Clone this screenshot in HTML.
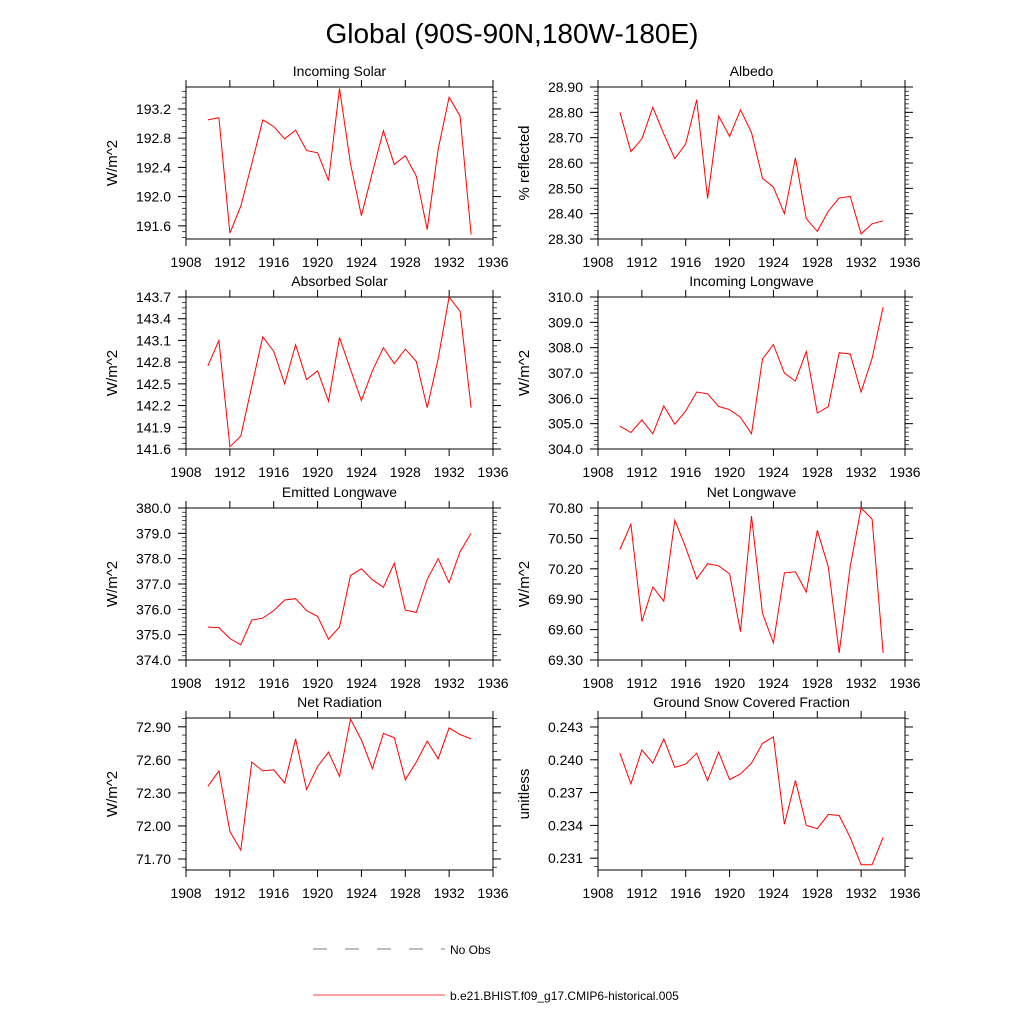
<!DOCTYPE html>
<html><head><meta charset="utf-8"><style>
body{margin:0;background:#fff;width:1024px;height:1024px;overflow:hidden}
svg text{font-family:"Liberation Sans",Arial,sans-serif;fill:#000}
</style></head><body>
<svg id="chart" width="1024" height="1024" xmlns="http://www.w3.org/2000/svg">
<text x="512" y="43" font-size="28" text-anchor="middle">Global (90S-90N,180W-180E)</text>
<g>
<line x1="313" y1="949" x2="445" y2="949" stroke="#555" stroke-width="0.7" stroke-dasharray="14,18"/>
<text x="450" y="954" font-size="12">No Obs</text>
<line x1="313" y1="995" x2="445" y2="995" stroke="#f00" stroke-width="0.7"/>
<text x="450" y="1000" font-size="12">b.e21.BHIST.f09_g17.CMIP6-historical.005</text>
</g>
</svg>
<script>
const years=[1910,1911,1912,1913,1914,1915,1916,1917,1918,1919,1920,1921,1922,1923,1924,1925,1926,1927,1928,1929,1930,1931,1932,1933,1934];
const xTicks=[1908,1912,1916,1920,1924,1928,1932,1936];
const incomingSolar=[193.05,193.08,191.5,191.87,192.45,193.05,192.96,192.79,192.91,192.63,192.6,192.22,193.48,192.45,191.74,192.33,192.9,192.44,192.56,192.28,191.55,192.65,193.36,193.1,191.48];
const albedo=[28.80,28.645,28.695,28.82,28.715,28.617,28.675,28.85,28.46,28.785,28.705,28.81,28.72,28.54,28.505,28.40,28.62,28.38,28.33,28.41,28.462,28.468,28.32,28.36,28.372];
const absorbedSolar=[142.75,143.1,141.63,141.78,142.47,143.15,142.95,142.5,143.04,142.56,142.68,142.26,143.14,142.7,142.27,142.68,143.0,142.78,142.98,142.81,142.17,142.85,143.7,143.5,142.17];
const incomingLW=[304.9,304.65,305.15,304.6,305.7,304.98,305.5,306.25,306.18,305.68,305.55,305.25,304.6,307.55,308.12,307.0,306.68,307.85,305.42,305.67,307.8,307.75,306.25,307.58,309.6];
const emittedLW=[375.3,375.28,374.85,374.6,375.58,375.65,375.95,376.37,376.42,375.95,375.72,374.82,375.3,377.33,377.6,377.17,376.87,377.82,375.97,375.88,377.18,378.0,377.05,378.28,379.0];
const netLW=[70.39,70.64,69.68,70.02,69.88,70.68,70.41,70.1,70.25,70.23,70.15,69.58,70.72,69.76,69.47,70.16,70.17,69.97,70.58,70.22,69.37,70.22,70.8,70.69,69.37];
const netRad=[72.36,72.50,71.95,71.78,72.58,72.50,72.51,72.39,72.79,72.33,72.54,72.67,72.45,72.97,72.78,72.52,72.84,72.80,72.42,72.58,72.77,72.61,72.89,72.83,72.79];
const snow=[0.2406,0.2378,0.2409,0.2397,0.2419,0.2393,0.2396,0.2406,0.2381,0.2407,0.2382,0.2387,0.2397,0.2415,0.2421,0.2341,0.2381,0.2340,0.2337,0.2350,0.2349,0.2329,0.2304,0.2304,0.2329];
const ticksIS=[191.6,192.0,192.4,192.8,193.2];
const ticksAl=[28.30,28.40,28.50,28.60,28.70,28.80,28.90];
const ticksAS=[141.6,141.9,142.2,142.5,142.8,143.1,143.4,143.7];
const ticksIL=[304,305,306,307,308,309,310];
const ticksEL=[374,375,376,377,378,379,380];
const ticksNL=[69.30,69.60,69.90,70.20,70.50,70.80];
const ticksNR=[71.70,72.00,72.30,72.60,72.90];
const ticksSn=[0.231,0.234,0.237,0.240,0.243];
const NS='http://www.w3.org/2000/svg';
const svg=document.getElementById('chart');
function mk(t,a,p){const e=document.createElementNS(NS,t);for(const k in a)e.setAttribute(k,a[k]);(p||svg).appendChild(e);return e;}
const panels=[
 {name:'incoming-solar',title:'Incoming Solar',yl:'W/m^2',x:186,y:87,data:incomingSolar,ticks:ticksIS,ymin:191.42,ymax:193.5,dec:1,minor:4},
 {name:'albedo',title:'Albedo',yl:'% reflected',x:598,y:87,data:albedo,ticks:ticksAl,ymin:28.3,ymax:28.9,dec:2,minor:5},
 {name:'absorbed-solar',title:'Absorbed Solar',yl:'W/m^2',x:186,y:297,data:absorbedSolar,ticks:ticksAS,ymin:141.6,ymax:143.7,dec:1,minor:3},
 {name:'incoming-longwave',title:'Incoming Longwave',yl:'W/m^2',x:598,y:297,data:incomingLW,ticks:ticksIL,ymin:304,ymax:310,dec:1,minor:5},
 {name:'emitted-longwave',title:'Emitted Longwave',yl:'W/m^2',x:186,y:508,data:emittedLW,ticks:ticksEL,ymin:374,ymax:380,dec:1,minor:5},
 {name:'net-longwave',title:'Net Longwave',yl:'W/m^2',x:598,y:508,data:netLW,ticks:ticksNL,ymin:69.3,ymax:70.8,dec:2,minor:3},
 {name:'net-radiation',title:'Net Radiation',yl:'W/m^2',x:186,y:718,data:netRad,ticks:ticksNR,ymin:71.60,ymax:72.98,dec:2,minor:3},
 {name:'ground-snow',title:'Ground Snow Covered Fraction',yl:'unitless',x:598,y:718,data:snow,ticks:ticksSn,ymin:0.22992,ymax:0.24382,dec:3,minor:3}
];
const W=307,H=152;
panels.forEach(p=>{
 const g=mk('g',{});
 
 
 const sx=v=>p.x+(v-1908)/28*W;
 const sy=v=>p.y+H-(v-p.ymin)/(p.ymax-p.ymin)*H;
 const fr=mk('rect',{x:p.x,y:p.y,width:W,height:H,fill:'none',stroke:'#000','stroke-width':1},g);
 
 
 const t=mk('text',{x:p.x+W/2,y:p.y-11,'font-size':14,'text-anchor':'middle'},g);
 t.textContent=p.title;
 
 
 const yl=mk('text',{x:0,y:0,'font-size':15,'text-anchor':'middle',transform:`translate(${p.x-69},${p.y+H/2}) rotate(-90)`},g);
 yl.textContent=p.yl;
 
 
 xTicks.forEach(v=>{
  const X=sx(v);
  mk('line',{x1:X,y1:p.y+H,x2:X,y2:p.y+H+7,stroke:'#000'},g);
  mk('line',{x1:X,y1:p.y,x2:X,y2:p.y-7,stroke:'#000'},g);
  const l=mk('text',{x:X,y:p.y+H+28,'font-size':14,'text-anchor':'middle'},g);
  l.textContent=v;
  
  
 });
 const step=p.ticks[1]-p.ticks[0];
 p.ticks.forEach(v=>{
  const Y=sy(v);
  mk('line',{x1:p.x,y1:Y,x2:p.x-8,y2:Y,stroke:'#000'},g);
  mk('line',{x1:p.x+W,y1:Y,x2:p.x+W+8,y2:Y,stroke:'#000'},g);
  const l=mk('text',{x:p.x-15,y:Y+5,'font-size':14,'text-anchor':'end'},g);
  l.textContent=v.toFixed(p.dec);
  
  
 });
 const ms=step/(p.minor+1);
 for(let v=p.ticks[0]-step;v<=p.ticks[p.ticks.length-1]+step;v+=ms){
  if(v<p.ymin-1e-9||v>p.ymax+1e-9)continue;
  const Y=sy(v);
  mk('line',{x1:p.x,y1:Y,x2:p.x-4,y2:Y,stroke:'#000','stroke-width':0.7},g);
  mk('line',{x1:p.x+W,y1:Y,x2:p.x+W+4,y2:Y,stroke:'#000','stroke-width':0.7},g);
 }
 const pts=p.data.map((v,i)=>sx(years[i]).toFixed(1)+','+sy(v).toFixed(1)).join(' ');
 const pl=mk('polyline',{points:pts,fill:'none',stroke:'#f00','stroke-width':1},g);
 
 
});
</script>
</body></html>
